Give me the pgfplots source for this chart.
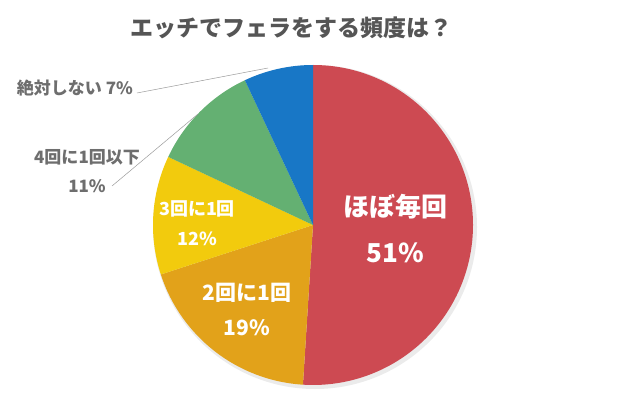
\documentclass[border=0pt]{standalone}
\usepackage{pgfplots}
\pgfplotsset{compat=1.18}
\usepackage{fontspec}
\setmainfont{Noto Sans CJK JP}
\definecolor{cRed}{HTML}{CD4A52}
\definecolor{cOrange}{HTML}{E2A21A}
\definecolor{cYellow}{HTML}{F2CB0D}
\definecolor{cGreen}{HTML}{64B072}
\definecolor{cBlue}{HTML}{1877C6}
\definecolor{cTitle}{HTML}{555555}
\definecolor{cLab}{HTML}{6E6E6E}
% slice: start %, end %, colour
\newcommand\slice[3]{%
  \fill[#3] (axis cs:313,176) -- ++({90-3.6*(#1)}:160bp)
    arc[start angle={90-3.6*(#1)}, end angle={90-3.6*(#2)}, radius=160bp] -- cycle;}
\begin{document}
\begin{tikzpicture}
\begin{axis}[scale only axis, width=620bp, height=401bp,
  xmin=0, xmax=620, ymin=0, ymax=401, hide axis, clip=false]
\path (axis cs:0,0) rectangle (axis cs:620,401);
% shadow
\fill[black!8] (axis cs:315,174) circle[radius=162bp];
% values: 51, 19, 12, 11, 7 (cumulative from top, clockwise)
\slice{0}{51}{cRed}
\slice{51}{70}{cOrange}
\slice{70}{82}{cYellow}
\slice{82}{93}{cGreen}
\slice{93}{100}{cBlue}
% title
\node[text=cTitle, font=\fontsize{23bp}{27bp}\selectfont\bfseries] at (axis cs:291,373) {エッチでフェラをする頻度は？};
% inside labels
\node[text=white, font=\fontsize{26bp}{30bp}\selectfont\bfseries] at (axis cs:395,194) {ほぼ毎回};
\node[text=white, font=\fontsize{26bp}{30bp}\selectfont\bfseries] at (axis cs:395,148) {51\%};
\node[text=white, font=\fontsize{21bp}{25bp}\selectfont\bfseries] at (axis cs:247,108) {2回に1回};
\node[text=white, font=\fontsize{21bp}{25bp}\selectfont\bfseries] at (axis cs:247,73) {19\%};
\node[text=white, font=\fontsize{18bp}{22bp}\selectfont\bfseries] at (axis cs:197,192) {3回に1回};
\node[text=white, font=\fontsize{18bp}{22bp}\selectfont\bfseries] at (axis cs:197,162) {12\%};
% outside labels
\draw[cLab!70, line width=0.5bp] (axis cs:137,308) -- (axis cs:268,333);
\node[text=cLab, font=\fontsize{17bp}{20bp}\selectfont\bfseries] at (axis cs:75,313) {絶対しない 7\%};
\draw[cLab!70, line width=0.5bp] (axis cs:112,215) -- (axis cs:198,287);
\node[text=cLab, font=\fontsize{17bp}{20bp}\selectfont\bfseries] at (axis cs:87,244) {4回に1回以下};
\node[text=cLab, font=\fontsize{17bp}{20bp}\selectfont\bfseries] at (axis cs:87,215) {11\%};
\end{axis}
\end{tikzpicture}
\end{document}
